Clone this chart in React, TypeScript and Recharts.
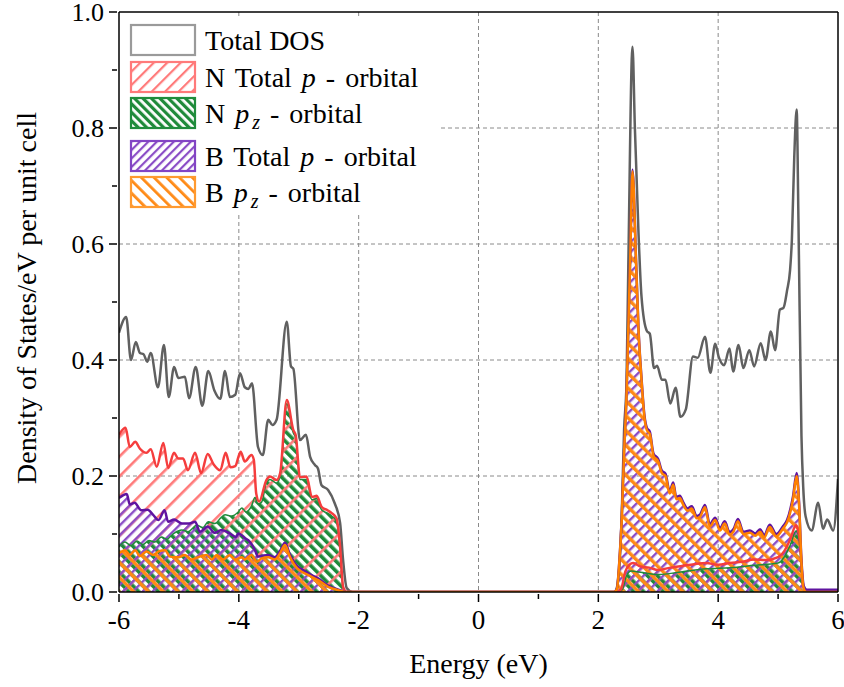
import React from 'react';
import { ComposedChart, Area, Line, XAxis, YAxis, ReferenceLine, CartesianGrid } from 'recharts';

type P = [number, number];

const energyTicks = [-6, -5, -4, -3, -2, -1, 0, 1, 2, 3, 4, 5, 6];
const energyLabelTicks = [-6, -4, -2, 0, 2, 4, 6];
const dosTicks = [0, 0.1, 0.2, 0.3, 0.4, 0.5, 0.6, 0.7, 0.8, 0.9, 1.0];
const dosLabelTicks = [0, 0.2, 0.4, 0.6, 0.8, 1.0];
const gridEnergy = [-4, -2, 0, 2, 4];
const gridDos = [0.2, 0.4, 0.6, 0.8];

const totalDos: P[] = [
  [-6.0, 0.447], [-5.88, 0.474], [-5.8, 0.4], [-5.72, 0.431], [-5.65, 0.412], [-5.59, 0.41], [-5.53, 0.397],
  [-5.47, 0.412], [-5.35, 0.353], [-5.25, 0.426], [-5.17, 0.336], [-5.08, 0.388], [-5.01, 0.369], [-4.9, 0.371],
  [-4.83, 0.334], [-4.72, 0.388], [-4.61, 0.321], [-4.51, 0.381], [-4.41, 0.348], [-4.31, 0.333], [-4.23, 0.381],
  [-4.15, 0.336], [-4.06, 0.34], [-3.98, 0.377], [-3.9, 0.353], [-3.84, 0.35], [-3.78, 0.36], [-3.68, 0.25],
  [-3.6, 0.236], [-3.51, 0.297], [-3.44, 0.288], [-3.37, 0.297], [-3.2, 0.466], [-3.13, 0.389], [-3.09, 0.385],
  [-2.98, 0.262], [-2.88, 0.271], [-2.81, 0.233], [-2.73, 0.219], [-2.68, 0.213], [-2.62, 0.184], [-2.51, 0.176],
  [-2.4, 0.153], [-2.31, 0.119], [-2.26, 0.055], [-2.2, 0.007], [-2.1, 0],
  [2.28, 0], [2.34, 0.03], [2.39, 0.13], [2.43, 0.28], [2.47, 0.36], [2.5, 0.56], [2.57, 0.94], [2.61, 0.8],
  [2.67, 0.62], [2.72, 0.51], [2.81, 0.45], [2.86, 0.445], [2.93, 0.386], [2.98, 0.39], [3.06, 0.366],
  [3.12, 0.366], [3.2, 0.325], [3.29, 0.352], [3.37, 0.302], [3.46, 0.315], [3.58, 0.406], [3.66, 0.404],
  [3.78, 0.44], [3.87, 0.378], [3.95, 0.428], [4.01, 0.405], [4.1, 0.391], [4.19, 0.42], [4.25, 0.38],
  [4.34, 0.426], [4.42, 0.386], [4.52, 0.417], [4.6, 0.389], [4.71, 0.429], [4.79, 0.4], [4.88, 0.449],
  [4.95, 0.417], [5.03, 0.487], [5.09, 0.49], [5.15, 0.52], [5.2, 0.555], [5.23, 0.607], [5.27, 0.75],
  [5.31, 0.832], [5.34, 0.64], [5.39, 0.27], [5.42, 0.18], [5.46, 0.13], [5.56, 0.106], [5.67, 0.154],
  [5.75, 0.109], [5.82, 0.125], [5.92, 0.106], [6.0, 0.195],
];

const nTotalP: P[] = [
  [-6.0, 0.271], [-5.89, 0.283], [-5.82, 0.25], [-5.73, 0.259], [-5.65, 0.247], [-5.54, 0.24], [-5.47, 0.246],
  [-5.37, 0.216], [-5.26, 0.257], [-5.18, 0.214], [-5.08, 0.24], [-5.01, 0.23], [-4.93, 0.23], [-4.85, 0.21],
  [-4.73, 0.24], [-4.63, 0.205], [-4.52, 0.238], [-4.42, 0.22], [-4.31, 0.21], [-4.22, 0.24], [-4.14, 0.215],
  [-4.06, 0.217], [-3.97, 0.242], [-3.9, 0.225], [-3.79, 0.236], [-3.75, 0.228], [-3.71, 0.17], [-3.66, 0.156],
  [-3.54, 0.193], [-3.48, 0.199], [-3.37, 0.193], [-3.31, 0.205], [-3.2, 0.331], [-3.09, 0.279], [-3.05, 0.27],
  [-2.98, 0.198], [-2.87, 0.199], [-2.78, 0.164], [-2.7, 0.166], [-2.62, 0.147], [-2.52, 0.141], [-2.45, 0.136],
  [-2.37, 0.127], [-2.31, 0.078], [-2.26, 0.009], [-2.2, 0],
  [2.3, 0], [2.38, 0.005], [2.45, 0.035], [2.52, 0.047], [2.58, 0.05], [2.7, 0.044], [2.85, 0.042], [3.0, 0.038],
  [3.2, 0.042], [3.4, 0.045], [3.6, 0.048], [3.8, 0.05], [4.0, 0.047], [4.2, 0.05], [4.4, 0.052], [4.6, 0.056],
  [4.8, 0.055], [5.0, 0.06], [5.1, 0.07], [5.2, 0.09], [5.3, 0.115], [5.36, 0.09], [5.42, 0.01], [5.46, 0], [6.0, 0],
];

const nPz: P[] = [
  [-6.0, 0.078], [-5.9, 0.086], [-5.8, 0.08], [-5.7, 0.088], [-5.6, 0.082], [-5.5, 0.089], [-5.4, 0.086],
  [-5.29, 0.095], [-5.2, 0.091], [-5.1, 0.1], [-4.95, 0.107], [-4.85, 0.104], [-4.7, 0.115], [-4.6, 0.111],
  [-4.51, 0.121], [-4.4, 0.118], [-4.3, 0.128], [-4.23, 0.133], [-4.12, 0.131], [-4.01, 0.138], [-3.95, 0.145],
  [-3.88, 0.138], [-3.79, 0.148], [-3.73, 0.163], [-3.68, 0.152], [-3.62, 0.155], [-3.54, 0.188], [-3.48, 0.194],
  [-3.37, 0.188], [-3.31, 0.2], [-3.2, 0.325], [-3.09, 0.274], [-3.05, 0.265], [-2.98, 0.194], [-2.87, 0.194],
  [-2.78, 0.159], [-2.7, 0.161], [-2.62, 0.142], [-2.52, 0.136], [-2.45, 0.131], [-2.37, 0.122], [-2.31, 0.074],
  [-2.26, 0.007], [-2.2, 0],
  [2.3, 0], [2.4, 0.004], [2.47, 0.028], [2.55, 0.036], [2.7, 0.034], [3.0, 0.03], [3.4, 0.035], [3.8, 0.04],
  [4.2, 0.042], [4.6, 0.046], [5.0, 0.05], [5.1, 0.06], [5.2, 0.08], [5.3, 0.105], [5.36, 0.082], [5.42, 0.008],
  [5.46, 0], [6.0, 0],
];

const bTotalP: P[] = [
  [-6.0, 0.162], [-5.87, 0.169], [-5.82, 0.151], [-5.74, 0.154], [-5.63, 0.141], [-5.52, 0.142], [-5.43, 0.133],
  [-5.34, 0.124], [-5.24, 0.141], [-5.18, 0.121], [-5.08, 0.125], [-4.95, 0.118], [-4.83, 0.118], [-4.73, 0.121],
  [-4.65, 0.104], [-4.52, 0.113], [-4.4, 0.102], [-4.29, 0.107], [-4.15, 0.101], [-4.05, 0.095], [-4.01, 0.101],
  [-3.9, 0.093], [-3.82, 0.087], [-3.73, 0.072], [-3.68, 0.061], [-3.62, 0.062], [-3.51, 0.064], [-3.4, 0.06],
  [-3.31, 0.071], [-3.23, 0.085], [-3.15, 0.065], [-3.03, 0.045], [-2.95, 0.039], [-2.84, 0.032], [-2.67, 0.023],
  [-2.51, 0.011], [-2.34, 0.004], [-2.2, 0],
  [2.26, 0], [2.31, 0.006], [2.35, 0.052], [2.39, 0.127], [2.43, 0.243], [2.47, 0.34], [2.5, 0.455], [2.53, 0.57],
  [2.57, 0.728], [2.63, 0.57], [2.67, 0.455], [2.72, 0.37], [2.77, 0.304], [2.81, 0.283], [2.86, 0.276],
  [2.92, 0.239], [3.0, 0.229], [3.06, 0.209], [3.12, 0.204], [3.19, 0.174], [3.25, 0.189], [3.3, 0.164],
  [3.36, 0.166], [3.42, 0.154], [3.49, 0.144], [3.56, 0.148], [3.64, 0.131], [3.7, 0.134], [3.78, 0.15],
  [3.86, 0.117], [3.95, 0.128], [4.03, 0.11], [4.11, 0.122], [4.19, 0.103], [4.26, 0.109], [4.33, 0.126],
  [4.42, 0.104], [4.53, 0.106], [4.62, 0.101], [4.7, 0.108], [4.77, 0.098], [4.86, 0.116], [4.97, 0.1],
  [5.08, 0.113], [5.15, 0.124], [5.21, 0.145], [5.25, 0.165], [5.31, 0.205], [5.35, 0.155], [5.39, 0.055],
  [5.43, 0.01], [5.48, 0.004], [6.0, 0.004],
];

const bPz: P[] = [
  [-6.0, 0.067], [-5.9, 0.072], [-5.82, 0.064], [-5.73, 0.072], [-5.65, 0.062], [-5.54, 0.07], [-5.43, 0.064],
  [-5.34, 0.07], [-5.23, 0.072], [-5.15, 0.061], [-5.01, 0.06], [-4.9, 0.064], [-4.79, 0.056], [-4.68, 0.06],
  [-4.54, 0.064], [-4.45, 0.056], [-4.37, 0.064], [-4.26, 0.056], [-4.15, 0.064], [-4.06, 0.056], [-3.95, 0.06],
  [-3.9, 0.056], [-3.79, 0.064], [-3.7, 0.052], [-3.62, 0.058], [-3.51, 0.06], [-3.4, 0.056], [-3.31, 0.067],
  [-3.23, 0.081], [-3.15, 0.061], [-3.03, 0.041], [-2.95, 0.035], [-2.84, 0.029], [-2.67, 0.02], [-2.51, 0.009],
  [-2.34, 0.003], [-2.2, 0],
  [2.26, 0], [2.31, 0.005], [2.35, 0.05], [2.39, 0.124], [2.43, 0.24], [2.47, 0.337], [2.5, 0.452], [2.53, 0.567],
  [2.57, 0.725], [2.63, 0.567], [2.67, 0.452], [2.72, 0.366], [2.77, 0.3], [2.81, 0.279], [2.86, 0.272],
  [2.92, 0.235], [3.0, 0.225], [3.06, 0.205], [3.12, 0.2], [3.19, 0.17], [3.25, 0.185], [3.3, 0.16], [3.36, 0.162],
  [3.42, 0.15], [3.49, 0.14], [3.56, 0.144], [3.64, 0.127], [3.7, 0.13], [3.78, 0.146], [3.86, 0.113],
  [3.95, 0.124], [4.03, 0.106], [4.11, 0.118], [4.19, 0.099], [4.26, 0.105], [4.33, 0.122], [4.42, 0.1],
  [4.53, 0.102], [4.62, 0.097], [4.7, 0.104], [4.77, 0.094], [4.86, 0.112], [4.97, 0.096], [5.08, 0.109],
  [5.15, 0.12], [5.21, 0.14], [5.25, 0.16], [5.31, 0.2], [5.35, 0.15], [5.39, 0.05], [5.42, 0.01], [5.46, 0], [6.0, 0],
];

const rows = (pts: P[]) => pts.map(([e, v]) => ({ e, v }));

const FONT = "'Liberation Serif', 'Times New Roman', serif";

const XTick = (props: any) => {
  const { x, y, payload } = props;
  const major = energyLabelTicks.includes(payload.value);
  return (
    <g>
      <line x1={x} x2={x} y1={y} y2={y + (major ? 8 : 5)} stroke="#000" strokeWidth={1.5} />
      {major && (
        <text x={x} y={y + 35} textAnchor="middle" fontFamily={FONT} fontSize={27} fill="#000">
          {String(payload.value)}
        </text>
      )}
    </g>
  );
};

const YTick = (props: any) => {
  const { x, y, payload } = props;
  const major = dosLabelTicks.some((t) => Math.abs(t - payload.value) < 1e-6);
  return (
    <g>
      <line x1={x} x2={x - (major ? 8 : 5)} y1={y} y2={y} stroke="#000" strokeWidth={1.5} />
      {major && (
        <text x={x - 13} y={y + 8.5} textAnchor="end" fontFamily={FONT} fontSize={26} fill="#000">
          {Number(payload.value).toFixed(1)}
        </text>
      )}
    </g>
  );
};

const Hatch = ({ id, size, angle, width, color }: any) => (
  <pattern id={id} patternUnits="userSpaceOnUse" width={size} height={size} patternTransform={`rotate(${angle})`}>
    <rect x={0} y={0} width={width} height={size} fill={color} />
  </pattern>
);

const legendRows = [
  { top: 25, stroke: '#9a9a9a', fill: '#ffffff' },
  { top: 62, stroke: '#ff7a7a', fill: 'url(#lgN)' },
  { top: 98, stroke: '#1f8c3c', fill: 'url(#lgNz)' },
  { top: 141, stroke: '#8244c4', fill: 'url(#lgB)' },
  { top: 177, stroke: '#ff9a30', fill: 'url(#lgBz)' },
];

export default function App() {
  return (
    <div style={{ position: 'absolute', left: 0, top: 0, width: 844, height: 687, background: '#fff' }}>
      <svg width={0} height={0} style={{ position: 'absolute' }}>
        <defs>
          <Hatch id="patN" size={14} angle={45} width={2.6} color="#ff7a7a" />
          <Hatch id="patNz" size={7} angle={-45} width={3.6} color="#1f8a3a" />
          <Hatch id="patB" size={7} angle={45} width={2.4} color="#8a4cc6" />
          <Hatch id="patBz" size={10.5} angle={-45} width={3.4} color="#ff8a16" />
          <Hatch id="lgN" size={9.5} angle={45} width={2.2} color="#ff7a7a" />
          <Hatch id="lgNz" size={6} angle={-45} width={3.2} color="#1f8a3a" />
          <Hatch id="lgB" size={6} angle={45} width={2.2} color="#8a4cc6" />
          <Hatch id="lgBz" size={9} angle={-45} width={2.8} color="#ff8a16" />
        </defs>
      </svg>
      <ComposedChart width={844} height={687} margin={{ top: 12, right: 6, bottom: 0, left: 0 }}>
        <CartesianGrid
          horizontal
          vertical
          horizontalValues={gridDos}
          verticalValues={gridEnergy}
          stroke="#8a8a8a"
          strokeDasharray="4 3"
          strokeWidth={1}
        />
        <XAxis
          type="number"
          dataKey="e"
          domain={[-6, 6]}
          ticks={energyTicks}
          interval={0}
          allowDataOverflow
          height={95}
          tickSize={0}
          tickLine={false}
          axisLine={{ stroke: '#000', strokeWidth: 1.5 }}
          tick={(p: any) => <XTick {...p} />}
        />
        <YAxis
          type="number"
          dataKey="v"
          domain={[0, 1]}
          ticks={dosTicks}
          interval={0}
          allowDataOverflow
          width={119}
          tickSize={0}
          tickLine={false}
          axisLine={{ stroke: '#000', strokeWidth: 1.5 }}
          tick={(p: any) => <YTick {...p} />}
        />
        <Area data={rows(nPz)} dataKey="v" type="monotone" stroke="none" fill="url(#patNz)" fillOpacity={1} isAnimationActive={false} />
        <Area data={rows(nTotalP)} dataKey="v" type="monotone" stroke="none" fill="url(#patN)" fillOpacity={1} isAnimationActive={false} />
        <Area data={rows(bTotalP)} dataKey="v" type="monotone" stroke="none" fill="url(#patB)" fillOpacity={1} isAnimationActive={false} />
        <Area data={rows(bPz)} dataKey="v" type="monotone" stroke="none" fill="url(#patBz)" fillOpacity={1} isAnimationActive={false} />
        <Line data={rows(totalDos)} dataKey="v" type="monotone" stroke="#606060" strokeWidth={2.5} dot={false} isAnimationActive={false} />
        <Line data={rows(nPz)} dataKey="v" type="monotone" stroke="#1f8a3a" strokeWidth={1.5} dot={false} isAnimationActive={false} />
        <Line data={rows(nTotalP)} dataKey="v" type="monotone" stroke="#f53d3d" strokeWidth={2.5} dot={false} isAnimationActive={false} />
        <Line data={rows(bTotalP)} dataKey="v" type="monotone" stroke="#5f14a0" strokeWidth={2.5} dot={false} isAnimationActive={false} />
        <Line data={rows(bPz)} dataKey="v" type="monotone" stroke="#ff8000" strokeWidth={2.5} dot={false} isAnimationActive={false} />
        <ReferenceLine y={1} stroke="#000" strokeWidth={1.5} ifOverflow="visible" />
        <ReferenceLine x={6} stroke="#000" strokeWidth={1.5} ifOverflow="visible" />
      </ComposedChart>
      <svg width={844} height={687} style={{ position: 'absolute', left: 0, top: 0, pointerEvents: 'none' }}>
        <rect x={120} y={19} width={318} height={196} fill="#fff" />
        {legendRows.map((r, i) => (
          <rect key={i} x={131} y={r.top} width={64} height={30} fill={r.fill} stroke={r.stroke} strokeWidth={2.2} />
        ))}
        <g fontFamily={FONT} fontSize={28} fill="#000">
          <text x={205} y={50}>Total DOS</text>
          <text x={205} y={87} wordSpacing={3}>
            N Total <tspan fontStyle="italic">p</tspan> - orbital
          </text>
          <text x={205} y={123} wordSpacing={3}>
            N <tspan fontStyle="italic">p</tspan>
            <tspan fontStyle="italic" fontSize={20} dx={3} dy={6}>z</tspan>
            <tspan dy={-6}> - orbital</tspan>
          </text>
          <text x={205} y={166} wordSpacing={3}>
            B Total <tspan fontStyle="italic">p</tspan> - orbital
          </text>
          <text x={205} y={202} wordSpacing={3}>
            B <tspan fontStyle="italic">p</tspan>
            <tspan fontStyle="italic" fontSize={20} dx={3} dy={6}>z</tspan>
            <tspan dy={-6}> - orbital</tspan>
          </text>
        </g>
        <text x={478.5} y={673} textAnchor="middle" fontFamily={FONT} fontSize={28} fill="#000">
          Energy (eV)
        </text>
        <text
          x={0}
          y={0}
          transform="translate(36,298) rotate(-90)"
          textAnchor="middle"
          fontFamily={FONT}
          fontSize={28}
          fill="#000"
        >
          Density of States/eV per unit cell
        </text>
      </svg>
    </div>
  );
}
